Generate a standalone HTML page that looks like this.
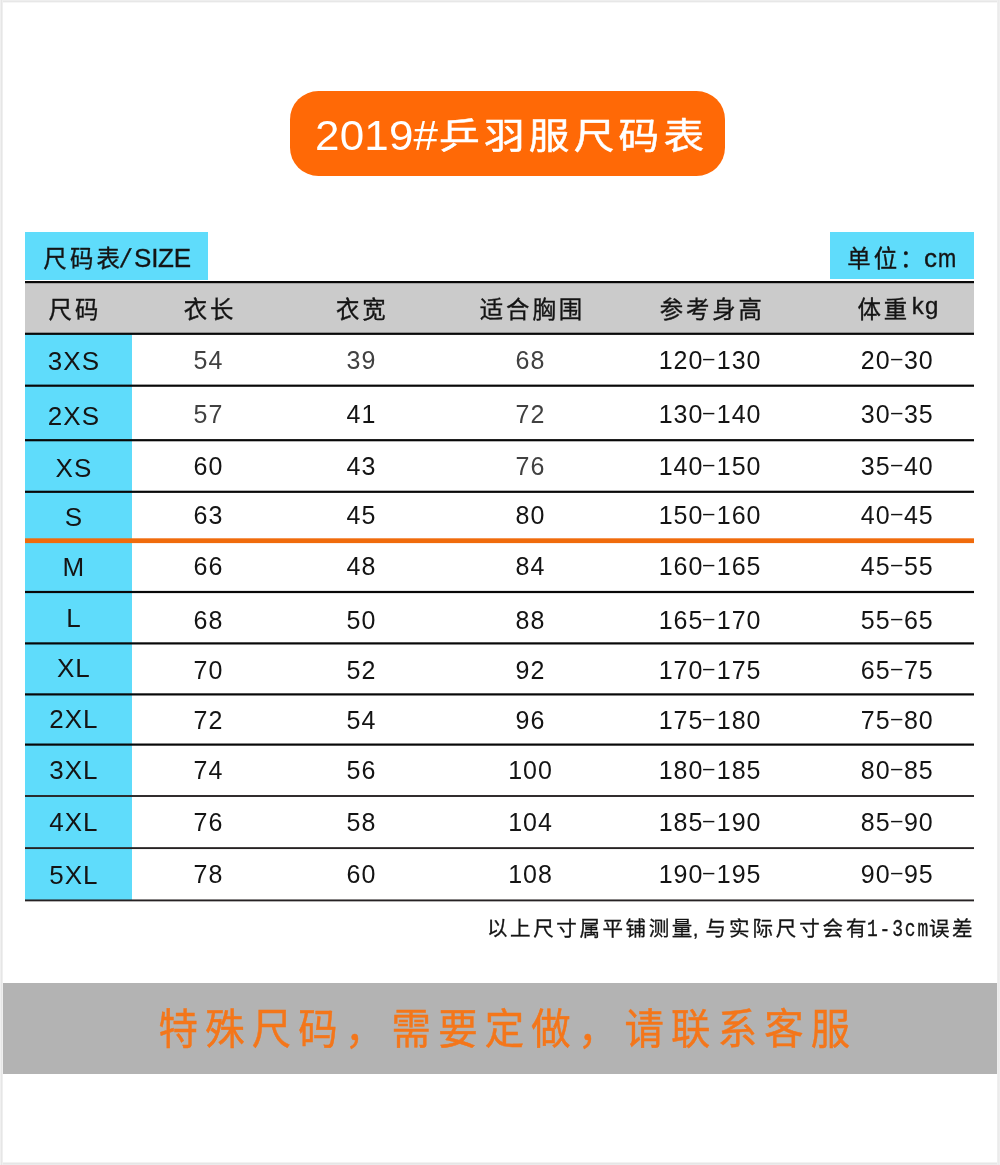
<!DOCTYPE html>
<html lang="zh-CN"><head><meta charset="utf-8"><title>2019#乒羽服尺码表</title>
<style>
html,body{margin:0;padding:0}
body{width:1000px;height:1165px;position:relative;overflow:hidden;background:#fff;
 font-family:"Liberation Sans","Noto Sans CJK SC",sans-serif;color:#141414}
.a{position:absolute;white-space:nowrap}
.wrap{left:0;top:0;width:1000px;height:1165px;will-change:transform}
.ft{left:0;top:0;width:1000px;height:3px;background:linear-gradient(#eee 0 1px,#e7e7e7 1px 2px,#f6f6f6 2px 3px)}
.fb{left:0;top:1162px;width:1000px;height:3px;background:linear-gradient(#f2f2f2 0 1px,#e6e6e6 1px 2px,#ebebeb 2px 3px)}
.fl{left:0;top:0;width:3px;height:1165px;background:linear-gradient(90deg,#f0f0f0 0 1px,#e6e6e6 1px 2px,#efefef 2px 3px)}
.fr{left:997px;top:0;width:3px;height:1165px;background:linear-gradient(90deg,#efefef 0 1px,#ebebeb 1px 2px,#eee 2px 3px)}
.pill{left:289.5px;top:91px;width:435px;height:84.5px;border-radius:28.5px;background:#ff6906}
.title{color:#fff;font-size:39px;line-height:50px}
.cy{background:#5fdcfb}
.ln{left:24.5px;width:949.5px;height:2px;background:#0a0a0a}
.n{font-size:25px;line-height:30px;letter-spacing:1.00px;text-align:center;width:200px}
.g{color:#414141}
.c1{font-size:26px}
.h{-webkit-text-stroke:.35px;font-size:23.4px;line-height:30px;letter-spacing:2.9px;text-align:center;width:200px}
.mono{display:inline-block;font-family:'Liberation Mono',monospace;font-size:23px;letter-spacing:2.35px;transform:scaleX(.78);transform-origin:0 50%;margin:0 -18.6px 0 -2.7px;line-height:30px;vertical-align:baseline}
.hy{display:inline-block;position:relative;top:-1px;margin:0 2px;transform:scale(1.85,.7)}

</style></head><body><div class="a wrap">
<div class="a ft"></div><div class="a fb"></div><div class="a fl"></div><div class="a fr"></div>
<div class="a pill"></div>
<div class="a title" style="left:314.6px;top:109.5px;font-size:43px;letter-spacing:0.2px;transform:scaleX(1.022);transform-origin:0 0">2019#</div>
<div class="a title" style="left:439.4px;top:112.2px;font-size:36.5px;letter-spacing:3.75px;-webkit-text-stroke:.5px;transform:scaleX(1.115);transform-origin:0 0">乒羽服尺码表</div>
<div class="a cy" style="left:24.5px;top:231.7px;width:183px;height:48px"></div>
<div class="a cy" style="left:829.5px;top:232.2px;width:144.5px;height:47px"></div>
<div class="a" style="left:43.3px;top:243.3px;-webkit-text-stroke:.35px;font-size:23.4px;line-height:30px;letter-spacing:3.2px">尺码表<span style="display:inline-block;font-size:26px;letter-spacing:0;margin-left:-1.4px;transform:skewX(-13deg)">/</span><span style="font-size:26px;letter-spacing:-0.3px;margin-left:5.2px">SIZE</span></div>
<div class="a" style="left:847.3px;top:243.3px;-webkit-text-stroke:.35px;font-size:23.4px;line-height:30px;letter-spacing:3px">单位：<span style="font-size:26px;letter-spacing:1px;margin-left:-2.6px">c<span style="display:inline-block;transform:scaleX(.84);transform-origin:0 50%">m</span></span></div>
<div class="a" style="left:24.5px;top:282px;width:949.5px;height:52px;background:#cbcbcb"></div>
<div class="a cy" style="left:24.5px;top:334px;width:107.2px;height:565.5px"></div>
<div class="a h" style="left:-25.1px;top:294.6px">尺码</div>
<div class="a h" style="left:110.0px;top:294.6px">衣长</div>
<div class="a h" style="left:262.3px;top:294.6px">衣宽</div>
<div class="a h" style="left:432.4px;top:294.6px">适合胸围</div>
<div class="a h" style="left:612.3px;top:294.6px">参考身高</div>
<div class="a h" style="left:798.2px;top:294.6px;margin-left:0.3px">体重<span style="font-size:24px;letter-spacing:1.2px;position:relative;top:-3.7px;margin-left:1.7px">kg</span></div>
<div class="a n c1" style="left:-26.1px;top:346.1px">3XS</div>
<div class="a n g" style="left:108.4px;top:345.1px">54</div>
<div class="a n g" style="left:261.4px;top:345.1px">39</div>
<div class="a n g" style="left:430.5px;top:345.1px">68</div>
<div class="a n" style="left:610.1px;top:345.1px">120<span class="hy">-</span>130</div>
<div class="a n" style="left:797.3px;top:345.1px">20<span class="hy">-</span>30</div>
<div class="a n c1" style="left:-26.1px;top:400.5px">2XS</div>
<div class="a n g" style="left:108.4px;top:399.3px">57</div>
<div class="a n" style="left:261.4px;top:399.3px">41</div>
<div class="a n g" style="left:430.5px;top:399.3px">72</div>
<div class="a n" style="left:610.1px;top:399.3px">130<span class="hy">-</span>140</div>
<div class="a n" style="left:797.3px;top:399.3px">30<span class="hy">-</span>35</div>
<div class="a n c1" style="left:-26.1px;top:452.5px">XS</div>
<div class="a n" style="left:108.4px;top:451.1px">60</div>
<div class="a n" style="left:261.4px;top:451.1px">43</div>
<div class="a n g" style="left:430.5px;top:451.1px">76</div>
<div class="a n" style="left:610.1px;top:451.1px">140<span class="hy">-</span>150</div>
<div class="a n" style="left:797.3px;top:451.1px">35<span class="hy">-</span>40</div>
<div class="a n c1" style="left:-26.1px;top:501.8px">S</div>
<div class="a n" style="left:108.4px;top:500.3px">63</div>
<div class="a n" style="left:261.4px;top:500.3px">45</div>
<div class="a n" style="left:430.5px;top:500.3px">80</div>
<div class="a n" style="left:610.1px;top:500.3px">150<span class="hy">-</span>160</div>
<div class="a n" style="left:797.3px;top:500.3px">40<span class="hy">-</span>45</div>
<div class="a n c1" style="left:-26.1px;top:552.3px">M</div>
<div class="a n" style="left:108.4px;top:550.8px">66</div>
<div class="a n" style="left:261.4px;top:550.8px">48</div>
<div class="a n" style="left:430.5px;top:550.8px">84</div>
<div class="a n" style="left:610.1px;top:550.8px">160<span class="hy">-</span>165</div>
<div class="a n" style="left:797.3px;top:550.8px">45<span class="hy">-</span>55</div>
<div class="a n c1" style="left:-26.1px;top:603.0px">L</div>
<div class="a n" style="left:108.4px;top:604.7px">68</div>
<div class="a n" style="left:261.4px;top:604.7px">50</div>
<div class="a n" style="left:430.5px;top:604.7px">88</div>
<div class="a n" style="left:610.1px;top:604.7px">165<span class="hy">-</span>170</div>
<div class="a n" style="left:797.3px;top:604.7px">55<span class="hy">-</span>65</div>
<div class="a n c1" style="left:-26.1px;top:653.0px">XL</div>
<div class="a n" style="left:108.4px;top:655.0px">70</div>
<div class="a n" style="left:261.4px;top:655.0px">52</div>
<div class="a n" style="left:430.5px;top:655.0px">92</div>
<div class="a n" style="left:610.1px;top:655.0px">170<span class="hy">-</span>175</div>
<div class="a n" style="left:797.3px;top:655.0px">65<span class="hy">-</span>75</div>
<div class="a n c1" style="left:-26.1px;top:704.0px">2XL</div>
<div class="a n" style="left:108.4px;top:705.4px">72</div>
<div class="a n" style="left:261.4px;top:705.4px">54</div>
<div class="a n" style="left:430.5px;top:705.4px">96</div>
<div class="a n" style="left:610.1px;top:705.4px">175<span class="hy">-</span>180</div>
<div class="a n" style="left:797.3px;top:705.4px">75<span class="hy">-</span>80</div>
<div class="a n c1" style="left:-26.1px;top:755.0px">3XL</div>
<div class="a n" style="left:108.4px;top:755.1px">74</div>
<div class="a n" style="left:261.4px;top:755.1px">56</div>
<div class="a n" style="left:430.5px;top:755.1px">100</div>
<div class="a n" style="left:610.1px;top:755.1px">180<span class="hy">-</span>185</div>
<div class="a n" style="left:797.3px;top:755.1px">80<span class="hy">-</span>85</div>
<div class="a n c1" style="left:-26.1px;top:806.5px">4XL</div>
<div class="a n" style="left:108.4px;top:806.8px">76</div>
<div class="a n" style="left:261.4px;top:806.8px">58</div>
<div class="a n" style="left:430.5px;top:806.8px">104</div>
<div class="a n" style="left:610.1px;top:806.8px">185<span class="hy">-</span>190</div>
<div class="a n" style="left:797.3px;top:806.8px">85<span class="hy">-</span>90</div>
<div class="a n c1" style="left:-26.1px;top:859.7px">5XL</div>
<div class="a n" style="left:108.4px;top:859.3px">78</div>
<div class="a n" style="left:261.4px;top:859.3px">60</div>
<div class="a n" style="left:430.5px;top:859.3px">108</div>
<div class="a n" style="left:610.1px;top:859.3px">190<span class="hy">-</span>195</div>
<div class="a n" style="left:797.3px;top:859.3px">90<span class="hy">-</span>95</div>
<div class="a" style="left:24.5px;width:949.5px;top:281px;height:3px;background:linear-gradient(rgba(8,8,8,1.00) 0px 1px,rgba(8,8,8,1.00) 1px 2px,rgba(8,8,8,0.20) 2px 3px)"></div>
<div class="a" style="left:24.5px;width:949.5px;top:332px;height:3px;background:linear-gradient(rgba(8,8,8,0.30) 0px 1px,rgba(8,8,8,1.00) 1px 2px,rgba(8,8,8,0.90) 2px 3px)"></div>
<div class="a" style="left:24.5px;width:949.5px;top:384px;height:3px;background:linear-gradient(rgba(8,8,8,0.40) 0px 1px,rgba(8,8,8,1.00) 1px 2px,rgba(8,8,8,0.80) 2px 3px)"></div>
<div class="a" style="left:24.5px;width:949.5px;top:439px;height:3px;background:linear-gradient(rgba(8,8,8,0.90) 0px 1px,rgba(8,8,8,1.00) 1px 2px,rgba(8,8,8,0.30) 2px 3px)"></div>
<div class="a" style="left:24.5px;width:949.5px;top:490px;height:3px;background:linear-gradient(rgba(8,8,8,0.30) 0px 1px,rgba(8,8,8,1.00) 1px 2px,rgba(8,8,8,0.90) 2px 3px)"></div>
<div class="a" style="left:24.5px;width:949.5px;top:590px;height:4px;background:linear-gradient(rgba(8,8,8,0.10) 0px 1px,rgba(8,8,8,1.00) 1px 2px,rgba(8,8,8,1.00) 2px 3px,rgba(8,8,8,0.10) 3px 4px)"></div>
<div class="a" style="left:24.5px;width:949.5px;top:642px;height:3px;background:linear-gradient(rgba(8,8,8,0.70) 0px 1px,rgba(8,8,8,1.00) 1px 2px,rgba(8,8,8,0.50) 2px 3px)"></div>
<div class="a" style="left:24.5px;width:949.5px;top:693px;height:3px;background:linear-gradient(rgba(8,8,8,0.70) 0px 1px,rgba(8,8,8,1.00) 1px 2px,rgba(8,8,8,0.50) 2px 3px)"></div>
<div class="a" style="left:24.5px;width:949.5px;top:743px;height:3px;background:linear-gradient(rgba(8,8,8,0.50) 0px 1px,rgba(8,8,8,1.00) 1px 2px,rgba(8,8,8,0.70) 2px 3px)"></div>
<div class="a" style="left:24.5px;width:949.5px;top:795px;height:2px;background:linear-gradient(rgba(38,34,35,0.95) 0px 1px,rgba(38,34,35,0.95) 1px 2px)"></div>
<div class="a" style="left:24.5px;width:949.5px;top:847px;height:3px;background:linear-gradient(rgba(38,34,35,0.85) 0px 1px,rgba(38,34,35,1.00) 1px 2px,rgba(38,34,35,0.05) 2px 3px)"></div>
<div class="a" style="left:24.5px;width:949.5px;top:899px;height:3px;background:linear-gradient(rgba(38,34,35,0.55) 0px 1px,rgba(38,34,35,1.00) 1px 2px,rgba(38,34,35,0.35) 2px 3px)"></div>
<div class="a" style="left:24.5px;width:949.5px;top:538px;height:6px;background:linear-gradient(rgba(240,107,12,0.70) 0px 1px,rgba(240,107,12,1.00) 1px 2px,rgba(240,107,12,1.00) 2px 3px,rgba(240,107,12,1.00) 3px 4px,rgba(240,107,12,1.00) 4px 5px,rgba(240,107,12,0.10) 5px 6px)"></div>
<div class="a" style="left:487px;top:914px;-webkit-text-stroke:.3px;font-size:20.5px;line-height:30px;letter-spacing:2.6px">以上尺寸属平铺测量<span style="margin:0 4.6px 0 -2.2px">,</span><span style="letter-spacing:2.9px">与实际尺寸会有</span><span class="mono">1-3cm</span>误差</div>
<div class="a" style="left:3px;top:983.3px;width:994px;height:90.4px;background:#b3b3b3"></div>
<div class="a" style="left:158.6px;top:1000.8px;font-size:39.4px;line-height:56px;letter-spacing:7.2px;-webkit-text-stroke:.45px;transform:scaleY(1.06);color:#f4761a">特殊尺码，需要定做，请联系客服</div>
</div></body></html>
